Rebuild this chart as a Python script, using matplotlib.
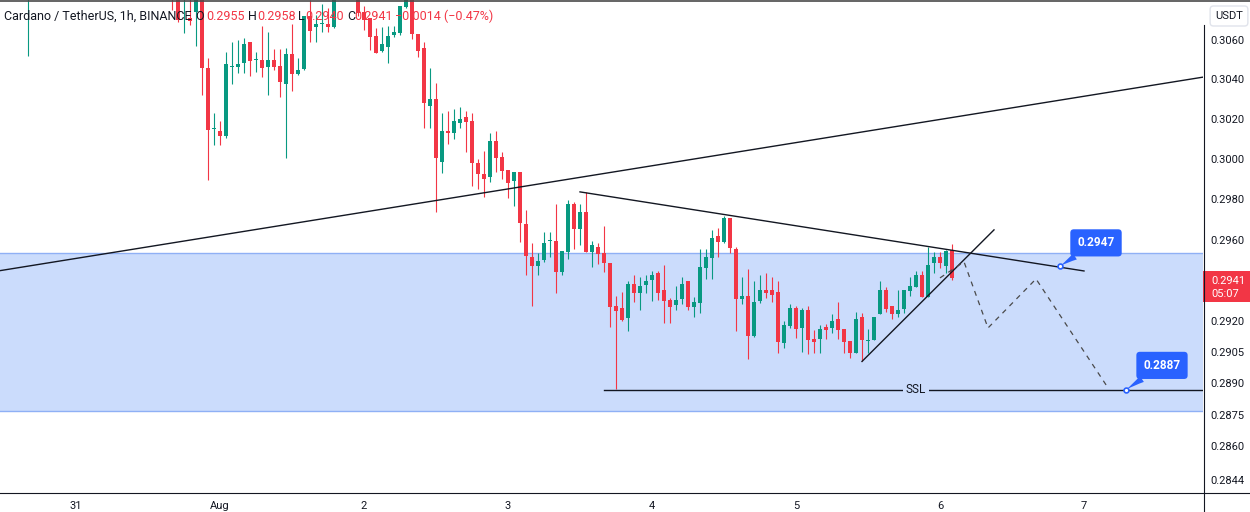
import numpy as np
import pandas as pd
import matplotlib
matplotlib.use("Agg")
import matplotlib.pyplot as plt
from matplotlib.ticker import FixedLocator, NullLocator, FixedFormatter
from matplotlib.patches import Rectangle
from matplotlib.lines import Line2D

plt.rcParams['font.family'] = ['Roboto', 'DejaVu Sans']
plt.rcParams['lines.scale_dashes'] = False

# ---------------------- данные (ADA/USDT, 1h) ----------------------
start = "2023-07-30 16:00"

opens = [
    0.3083, 0.3090, 0.3094, 0.3097, 0.3094, 0.3090, 0.3093, 0.3099, 0.3097, 0.3093,
    0.3095, 0.3101, 0.3104, 0.3102, 0.3099, 0.3098, 0.3094, 0.3096, 0.3100, 0.3097,
    0.3093, 0.3098, 0.3095, 0.3091, 0.3095, 0.3086, 0.30820, 0.30713, 0.30742, 0.3084,
    0.30458, 0.30151, 0.30139, 0.30115, 0.30463, 0.30463, 0.30483, 0.30589, 0.30497, 0.30497,
    0.30463, 0.30497, 0.30468, 0.30378, 0.30530, 0.30427, 0.30453, 0.30722, 0.30665, 0.30680,
    0.30680, 0.30665, 0.3082, 0.3089, 0.3086, 0.3090, 0.30742, 0.30713, 0.30618, 0.30545,
    0.30564, 0.30626, 0.30636, 0.30769, 0.3082, 0.30631, 0.30559, 0.30266, 0.30302, 0.29984,
    0.30139, 0.30129, 0.30180, 0.30210, 0.30190, 0.29979, 0.29925, 0.29910, 0.30090, 0.30010,
    0.29944, 0.29889, 0.29934, 0.29678, 0.29515, 0.29471, 0.29500, 0.29594, 0.29594, 0.29442,
    0.29540, 0.29776, 0.29653, 0.29737, 0.29540, 0.29564, 0.29535, 0.29486, 0.29275, 0.29266,
    0.29217, 0.29383, 0.29338, 0.29378, 0.29402, 0.29437, 0.29353, 0.29304, 0.29280, 0.29309,
    0.29397, 0.29270, 0.29290, 0.29461, 0.29510, 0.29618, 0.29589, 0.29707, 0.29554, 0.29309,
    0.29324, 0.29129, 0.29300, 0.29353, 0.29353, 0.29343, 0.29096, 0.29178, 0.29266, 0.29169,
    0.29256, 0.29114, 0.29114, 0.29173, 0.29169, 0.29212, 0.29164, 0.29106, 0.29047, 0.29222,
    0.29106, 0.29109, 0.29236, 0.29353, 0.29275, 0.29236, 0.29261, 0.29348, 0.29368, 0.29427,
    0.29319, 0.29486, 0.29515, 0.29471, 0.2955,
]
highs = [
    0.3092, 0.3096, 0.3100, 0.3102, 0.3098, 0.3095, 0.3101, 0.3105, 0.3100, 0.3097,
    0.3103, 0.3107, 0.3109, 0.3106, 0.3104, 0.3101, 0.3098, 0.3102, 0.3104, 0.3100,
    0.3099, 0.3101, 0.3098, 0.3097, 0.3099, 0.3090, 0.3088, 0.3082, 0.3088, 0.3087,
    0.30507, 0.30231, 0.30190, 0.30540, 0.30589, 0.30599, 0.30608, 0.30589, 0.30540, 0.30670,
    0.30641, 0.30554, 0.30554, 0.30559, 0.30680, 0.30507, 0.30722, 0.30803, 0.30727, 0.30783,
    0.30764, 0.3086, 0.3092, 0.3095, 0.3093, 0.3094, 0.30774, 0.30713, 0.30661, 0.30665,
    0.30670, 0.30670, 0.30774, 0.3086, 0.3085, 0.30631, 0.30589, 0.30458, 0.30382, 0.30231,
    0.30241, 0.30251, 0.30261, 0.30241, 0.30231, 0.30000, 0.30040, 0.30129, 0.30139, 0.30035,
    0.29944, 0.29934, 0.29934, 0.29747, 0.29584, 0.29535, 0.29638, 0.29638, 0.29776, 0.29545,
    0.29796, 0.29786, 0.29776, 0.29835, 0.29594, 0.29584, 0.29667, 0.29486, 0.29324, 0.29343,
    0.29397, 0.29427, 0.29417, 0.29427, 0.29446, 0.29446, 0.29476, 0.29314, 0.29373, 0.29417,
    0.29397, 0.29319, 0.29554, 0.29554, 0.29648, 0.29657, 0.29716, 0.29707, 0.29564, 0.29417,
    0.29456, 0.29397, 0.29427, 0.29437, 0.29417, 0.29397, 0.29203, 0.29285, 0.29275, 0.29266,
    0.29275, 0.29159, 0.29183, 0.29188, 0.29236, 0.29295, 0.29164, 0.29106, 0.29246, 0.29241,
    0.29164, 0.29222, 0.29397, 0.29368, 0.29275, 0.29353, 0.29353, 0.29417, 0.29446, 0.29446,
    0.29564, 0.29540, 0.29540, 0.29550, 0.2958,
]
lows = [
    0.30517, 0.3086, 0.3091, 0.3092, 0.3088, 0.3086, 0.3092, 0.3095, 0.3091, 0.3089,
    0.3094, 0.3098, 0.3100, 0.3097, 0.3095, 0.3092, 0.3089, 0.3094, 0.3095, 0.3091,
    0.3090, 0.3094, 0.3089, 0.3087, 0.30754, 0.30693, 0.30636, 0.30675, 0.30569, 0.30322,
    0.29895, 0.30070, 0.30070, 0.30104, 0.30378, 0.30432, 0.30432, 0.30417, 0.30436, 0.30412,
    0.30322, 0.30448, 0.30312, 0.30005, 0.30341, 0.30422, 0.30448, 0.30589, 0.30589, 0.30641,
    0.30641, 0.30662, 0.3081, 0.3084, 0.3082, 0.30722, 0.30651, 0.30549, 0.30535, 0.30540,
    0.30483, 0.30613, 0.30626, 0.30764, 0.30603, 0.30512, 0.30156, 0.30156, 0.29737, 0.29930,
    0.30075, 0.30099, 0.30156, 0.30035, 0.29865, 0.29850, 0.29811, 0.29884, 0.29934, 0.29900,
    0.29806, 0.29767, 0.29589, 0.29427, 0.29275, 0.29427, 0.29491, 0.29515, 0.29338, 0.29427,
    0.29505, 0.29554, 0.29574, 0.29540, 0.29466, 0.29481, 0.29442, 0.29173, 0.28873, 0.29203,
    0.29154, 0.29295, 0.29256, 0.29338, 0.29300, 0.29304, 0.29193, 0.29193, 0.29256, 0.29285,
    0.29256, 0.29222, 0.29241, 0.29407, 0.29407, 0.29515, 0.29584, 0.29535, 0.29154, 0.29285,
    0.29017, 0.29124, 0.29290, 0.29314, 0.29295, 0.29047, 0.29071, 0.29169, 0.29119, 0.29052,
    0.29042, 0.29047, 0.29047, 0.29114, 0.29144, 0.29114, 0.29047, 0.29022, 0.29047, 0.29006,
    0.29047, 0.29109, 0.29236, 0.29246, 0.29212, 0.29222, 0.29241, 0.29324, 0.29368, 0.29319,
    0.29319, 0.29437, 0.29461, 0.29437, 0.2940,
]
closes = [
    0.3090, 0.3094, 0.3097, 0.3094, 0.3090, 0.3093, 0.3099, 0.3097, 0.3093, 0.3095,
    0.3101, 0.3104, 0.3102, 0.3099, 0.3098, 0.3094, 0.3096, 0.3100, 0.3097, 0.3093,
    0.3098, 0.3095, 0.3091, 0.3095, 0.3086, 0.30703, 0.30850, 0.30698, 0.3084, 0.30458,
    0.30146, 0.30153, 0.30115, 0.30478, 0.30465, 0.30478, 0.30579, 0.30492, 0.30499, 0.30458,
    0.30497, 0.30463, 0.30387, 0.30530, 0.30427, 0.30448, 0.30722, 0.30646, 0.30680, 0.30682,
    0.30665, 0.3082, 0.3089, 0.3086, 0.3090, 0.30737, 0.30703, 0.30613, 0.30535, 0.30579,
    0.30618, 0.30641, 0.30774, 0.3082, 0.30631, 0.30545, 0.30280, 0.30302, 0.30005, 0.30139,
    0.30129, 0.30190, 0.30200, 0.30185, 0.29979, 0.29925, 0.29900, 0.30090, 0.30005, 0.29939,
    0.29879, 0.29934, 0.29683, 0.29520, 0.29471, 0.29496, 0.29584, 0.29596, 0.29442, 0.29545,
    0.29776, 0.29653, 0.29737, 0.29540, 0.29574, 0.29530, 0.29486, 0.29270, 0.29251, 0.29207,
    0.29383, 0.29338, 0.29373, 0.29397, 0.29427, 0.29338, 0.29300, 0.29270, 0.29304, 0.29383,
    0.29270, 0.29295, 0.29466, 0.29515, 0.29608, 0.29589, 0.29707, 0.29559, 0.29309, 0.29324,
    0.29129, 0.29295, 0.29353, 0.29338, 0.29329, 0.29101, 0.29183, 0.29266, 0.29164, 0.29256,
    0.29109, 0.29101, 0.29164, 0.29159, 0.29203, 0.29159, 0.29101, 0.29047, 0.29212, 0.29109,
    0.29108, 0.29222, 0.29353, 0.29261, 0.29236, 0.29256, 0.29353, 0.29373, 0.29427, 0.29319,
    0.29476, 0.29515, 0.29486, 0.29545, 0.2941,
]

price_ticks = [0.3060, 0.3040, 0.3020, 0.3000, 0.2980, 0.2960,
               0.2920, 0.2905, 0.2890, 0.2875, 0.2860, 0.2844]
day_ticks = ["2023-07-31", "2023-08-01", "2023-08-02", "2023-08-03",
             "2023-08-04", "2023-08-05", "2023-08-06", "2023-08-07"]
day_labels = ["31", "Aug", "2", "3", "4", "5", "6", "7"]

# зона спроса
zone_low, zone_high = 0.28768, 0.29535

# линии разметки (время, цена)
trend_t = ["2023-07-30 11:00", "2023-08-07 20:00"]
trend_p = [0.29446, 0.30412]
resist_t = ["2023-08-03 12:00", "2023-08-07 00:00"]
resist_p = [0.29836, 0.29446]
support_t = ["2023-08-05 11:00", "2023-08-06 09:00"]
support_p = [0.29006, 0.29648]
ssl_t = ["2023-08-03 16:00", "2023-08-07 20:00"]
ssl_price = 0.2887
ssl_label_t = "2023-08-05 20:00"
path_t = ["2023-08-06 00:00", "2023-08-06 04:00", "2023-08-06 08:00",
          "2023-08-06 16:00", "2023-08-07 04:00"]
path_p = [0.29412, 0.29491, 0.29168, 0.29407, 0.28879]

# выноски
callout_pt_t = ["2023-08-06 20:00", "2023-08-07 07:00"]
callout_pt_p = [0.2947, 0.2887]
callout_txt_t = ["2023-08-07 02:00", "2023-08-07 13:00"]
callout_txt_p = [0.29584, 0.28987]

# ---------------------- оформление ----------------------
GREEN = '#089981'
RED = '#f23645'
BLUE = '#2962ff'
ZONE = '#cbdcfc'
ZONE_EDGE = '#8fb0f5'
TXT = '#131722'

W, H = 1250, 512
fig = plt.figure(figsize=(W / 100, H / 100), dpi=100)
ax = fig.add_axes([0, 1 - 493 / H, 1203 / W, 493 / H])

def fx(px):
    return px / W

def fy(py):
    return 1 - py / H

times = pd.date_range(start, periods=len(opens), freq="h")
o = np.array(opens)
c = np.array(closes)
hi = np.array(highs)
lo = np.array(lows)
col = np.where(c >= o, GREEN, RED)
body_low = np.minimum(o, c)
body_h = np.maximum(np.abs(c - o), 0.00004)

ax.axhspan(zone_low, zone_high, facecolor=ZONE, edgecolor='none', zorder=1)
ax.axhline(zone_low, color=ZONE_EDGE, lw=1, zorder=1.5)
ax.axhline(zone_high, color=ZONE_EDGE, lw=1, zorder=1.5)

ax.vlines(times, lo, hi, colors=col, lw=0.8, zorder=3)
ax.bar(times, body_h, bottom=body_low, width=0.78 / 24, color=col, lw=0, zorder=3)

ax.plot(pd.to_datetime(trend_t), trend_p, color=TXT, lw=1.0, zorder=4)
ax.plot(pd.to_datetime(resist_t), resist_p, color=TXT, lw=1.0, zorder=4)
ax.plot(pd.to_datetime(support_t), support_p, color=TXT, lw=1.0, zorder=4)
ax.plot(pd.to_datetime(ssl_t), [ssl_price, ssl_price], color=TXT, lw=1.0, zorder=4)
ax.text(pd.Timestamp(ssl_label_t), ssl_price, "SSL", ha='center', va='center',
        fontsize=8.5, color=TXT, zorder=5,
        bbox=dict(boxstyle='square,pad=0.25', fc=ZONE, ec='none'))
ax.plot(pd.to_datetime(path_t), path_p, color='#4a4a4a', lw=0.9,
        dashes=(3.6, 3.6), zorder=4)

for pt_t, pt_p, tx_t, tx_p in zip(callout_pt_t, callout_pt_p, callout_txt_t, callout_txt_p):
    ax.annotate(f"{pt_p:.4f}", xy=(pd.Timestamp(pt_t), pt_p),
                xytext=(pd.Timestamp(tx_t), tx_p),
                ha='center', va='center', fontsize=8.5, fontweight='bold', color='white',
                bbox=dict(boxstyle='round,pad=0.6,rounding_size=0.3', fc=BLUE, ec='none'),
                arrowprops=dict(arrowstyle='wedge,tail_width=0.6,shrink_factor=0.4',
                                fc=BLUE, ec='none', shrinkA=0, shrinkB=0),
                zorder=6)
    ax.plot(pd.Timestamp(pt_t), pt_p, 'o', ms=3.5, mfc='white', mec=BLUE, mew=1.2, zorder=7)

ax.set_yscale('log')
ax.set_ylim(0.28378, 0.30804)
ax.set_xlim(pd.Timestamp("2023-07-30 11:20"), pd.Timestamp("2023-08-07 19:50"))

ax.yaxis.tick_right()
ax.yaxis.set_major_locator(FixedLocator(price_ticks))
ax.yaxis.set_major_formatter(FixedFormatter([f"{p:.4f}" for p in price_ticks]))
ax.yaxis.set_minor_locator(NullLocator())
ax.tick_params(axis='y', length=0, pad=5.5, labelsize=8, labelcolor=TXT)

ax.set_xticks(pd.to_datetime(day_ticks))
ax.set_xticklabels(day_labels)
ax.xaxis.set_minor_locator(NullLocator())
ax.tick_params(axis='x', length=0, pad=6, labelsize=8, labelcolor=TXT)

for s in ax.spines.values():
    s.set_visible(False)

# рамки шкал
fig.add_artist(Line2D([0, 1], [fy(493), fy(493)], color=TXT, lw=0.8))
fig.add_artist(Line2D([fx(1203.5), fx(1203.5)], [fy(25), 0], color=TXT, lw=0.8))
fig.add_artist(Line2D([0, 1], [fy(0.5), fy(0.5)], color='#4a4a4a', lw=1.2))

# текущая цена
fig.add_artist(Rectangle((fx(1203), fy(302)), 47 / W, 31 / H, color=RED, lw=0))
fig.text(fx(1211), fy(281), f"{closes[-1]:.4f}", color='white', fontsize=8, va='center')
fig.text(fx(1211), fy(294), "05:07", color='white', fontsize=8, va='center')

fig.text(fx(1229), fy(16), "USDT", color=TXT, fontsize=8, ha='center', va='center',
         bbox=dict(boxstyle='round,pad=0.45,rounding_size=0.3', fc='white', ec='#e0e3eb'))

# заголовок
chg = closes[-1] - opens[-1]
title_parts = [
    (4, "Cardano / TetherUS, 1h, BINANCE", TXT),
    (195, "O", TXT), (206, f"{opens[-1]:.4f}", RED),
    (248, "H", TXT), (257, f"{highs[-1]:.4f}", RED),
    (298, "L", TXT), (305, f"{lows[-1]:.4f}", RED),
    (347, "C", TXT), (354, f"{closes[-1]:.4f}", RED),
    (395, "\u2212" + f"{abs(chg):.4f} (\u2212{abs(chg) / opens[-1] * 100:.2f}%)", RED),
]
for xp, s, clr in title_parts:
    fig.text(fx(xp), fy(16), s, color=clr, fontsize=9, va='center')

fig.savefig("out.png", dpi=100)
